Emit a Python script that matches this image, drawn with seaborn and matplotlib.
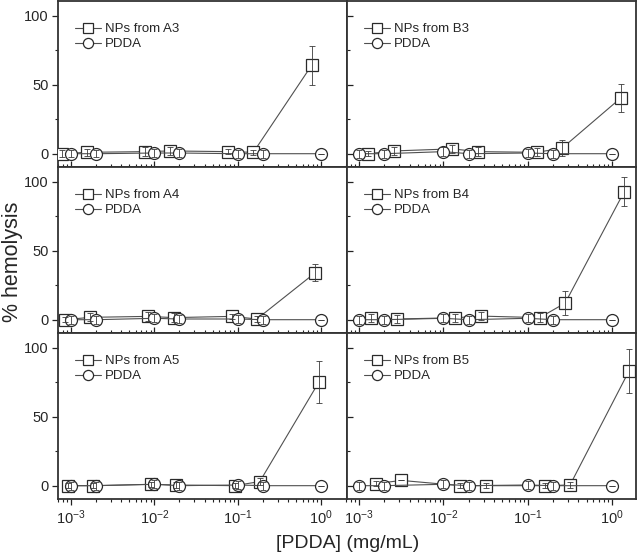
import numpy as np
import pandas as pd
import matplotlib
matplotlib.use('Agg')
import matplotlib.pyplot as plt
import seaborn as sns
from matplotlib.ticker import LogLocator, FixedLocator, NullFormatter

sns.set_style('ticks')
plt.rcParams['font.family'] = ['Liberation Sans', 'DejaVu Sans']
plt.rcParams['mathtext.fontset'] = 'custom'
plt.rcParams['mathtext.rm'] = 'Liberation Sans'
plt.rcParams['mathtext.it'] = 'Liberation Sans:italic'
plt.rcParams['mathtext.bf'] = 'Liberation Sans:bold'

# ---------------- data ----------------
panel_names = ['A3', 'B3', 'A4', 'B4', 'A5', 'B5']
pdda_conc = [0.001, 0.002, 0.01, 0.02, 0.1, 0.2, 1.0]

np_conc_A3 = [0.00077, 0.00154, 0.0077, 0.0154, 0.077, 0.154, 0.77]
np_hemo_A3 = [0.0, 1.0, 1.5, 2.0, 1.5, 1.0, 64.0]
np_err_A3 = [2.5, 2.5, 3.0, 3.0, 2.0, 2.0, 14.0]
pdda_hemo_A3 = [0.0, 0.0, 0.5, 0.5, 0.0, 0.0, 0.0]
pdda_err_A3 = [2.5, 2.5, 3.0, 3.0, 3.0, 3.0, 0.0]

np_conc_B3 = [0.00128, 0.00256, 0.0128, 0.0256, 0.128, 0.256, 1.28]
np_hemo_B3 = [0.0, 2.0, 3.5, 1.5, 1.0, 4.0, 40.5]
np_err_B3 = [2.0, 3.0, 3.0, 3.0, 3.0, 6.0, 10.0]
pdda_hemo_B3 = [0.0, 0.0, 1.5, 0.0, 0.5, 0.0, 0.0]
pdda_err_B3 = [3.0, 3.0, 3.0, 3.0, 3.0, 3.0, 0.0]

np_conc_A4 = [0.00085, 0.0017, 0.0085, 0.017, 0.085, 0.17, 0.85]
np_hemo_A4 = [0.0, 1.7, 2.4, 1.5, 2.4, 0.5, 34.0]
np_err_A4 = [2.0, 3.0, 3.0, 3.0, 2.0, 2.0, 6.0]
pdda_hemo_A4 = [0.0, 0.0, 1.0, 0.5, 0.5, 0.0, 0.0]
pdda_err_A4 = [3.0, 3.0, 3.0, 3.0, 3.0, 3.0, 0.0]

np_conc_B4 = [0.00139, 0.00278, 0.0139, 0.0278, 0.139, 0.278, 1.39]
np_hemo_B4 = [1.0, 0.5, 1.4, 2.6, 1.5, 12.0, 92.5]
np_err_B4 = [3.0, 3.0, 3.0, 3.0, 3.0, 8.5, 10.5]
pdda_hemo_B4 = [0.0, 0.0, 1.0, 0.0, 1.0, 0.0, 0.0]
pdda_err_B4 = [3.0, 3.0, 3.0, 3.0, 3.0, 3.0, 0.0]

np_conc_A5 = [0.00092, 0.00184, 0.0092, 0.0184, 0.092, 0.184, 0.94]
np_hemo_A5 = [0.0, 0.0, 1.0, 0.5, 0.0, 3.0, 75.0]
np_err_A5 = [2.0, 2.0, 2.0, 2.0, 2.0, 2.5, 15.0]
pdda_hemo_A5 = [0.0, 0.0, 1.0, 0.0, 0.5, 0.0, 0.0]
pdda_err_A5 = [3.0, 3.0, 3.0, 3.0, 3.0, 3.0, 0.0]

np_conc_B5 = [0.00159, 0.00318, 0.0159, 0.0318, 0.159, 0.318, 1.59]
np_hemo_B5 = [1.5, 3.8, 0.0, 0.0, 0.0, 0.5, 83.0]
np_err_B5 = [2.0, 0.0, 2.0, 2.0, 2.0, 2.0, 16.0]
pdda_hemo_B5 = [0.0, 0.0, 1.0, 0.0, 0.5, 0.0, 0.0]
pdda_err_B5 = [3.0, 3.0, 3.0, 3.0, 3.0, 3.0, 0.0]

y_major = [0, 50, 100]
y_minor = [25, 75]
x_ticks = [1e-3, 1e-2, 1e-1, 1e0]

panels = {
    'A3': (np_conc_A3, np_hemo_A3, np_err_A3, pdda_hemo_A3, pdda_err_A3),
    'B3': (np_conc_B3, np_hemo_B3, np_err_B3, pdda_hemo_B3, pdda_err_B3),
    'A4': (np_conc_A4, np_hemo_A4, np_err_A4, pdda_hemo_A4, pdda_err_A4),
    'B4': (np_conc_B4, np_hemo_B4, np_err_B4, pdda_hemo_B4, pdda_err_B4),
    'A5': (np_conc_A5, np_hemo_A5, np_err_A5, pdda_hemo_A5, pdda_err_A5),
    'B5': (np_conc_B5, np_hemo_B5, np_err_B5, pdda_hemo_B5, pdda_err_B5),
}

# ---------------- figure ----------------
fig, axes = plt.subplots(3, 2, figsize=(6.38, 5.57), dpi=100)
fig.subplots_adjust(left=0.0909, right=0.997, top=0.998, bottom=0.104,
                    wspace=0, hspace=0)

line_col = '#505050'
edge_col = '#2a2a2a'
err_col = '#3a3a3a'

for i, name in enumerate(panel_names):
    r, c = divmod(i, 2)
    ax = axes[r, c]
    xc, yh, ye, ph, pe = panels[name]
    df_np = pd.DataFrame({'x': xc, 'y': yh})
    df_pd = pd.DataFrame({'x': pdda_conc, 'y': ph})

    sns.lineplot(data=df_np, x='x', y='y', ax=ax, color=line_col, lw=0.8,
                 marker='s', markersize=8.6, markerfacecolor='white',
                 markeredgecolor=edge_col, markeredgewidth=0.9,
                 label=f'NPs from {name}', zorder=3)
    sns.lineplot(data=df_pd, x='x', y='y', ax=ax, color=line_col, lw=0.8,
                 marker='o', markersize=8.6, markerfacecolor='white',
                 markeredgecolor=edge_col, markeredgewidth=0.9,
                 label='PDDA', zorder=3)
    ax.errorbar(xc, yh, yerr=ye, fmt='none', ecolor=err_col, elinewidth=0.6,
                capsize=2, capthick=0.6, zorder=4)
    ax.errorbar(pdda_conc, ph, yerr=pe, fmt='none', ecolor=err_col,
                elinewidth=0.6, capsize=2, capthick=0.6, zorder=4)

    ax.set_xscale('log')
    if c == 0:
        ax.set_xlim(10 ** -3.156, 10 ** 0.311)
    else:
        ax.set_xlim(10 ** -3.143, 10 ** 0.286)
    ax.set_ylim(-9.7, 110.5)
    ax.set_xlabel('')
    ax.set_ylabel('')

    ax.xaxis.set_major_locator(FixedLocator(x_ticks))
    ax.xaxis.set_minor_locator(LogLocator(base=10, subs=np.arange(2, 10)))
    ax.xaxis.set_minor_formatter(NullFormatter())
    ax.yaxis.set_major_locator(FixedLocator(y_major))
    ax.yaxis.set_minor_locator(FixedLocator(y_minor))

    xdir = 'out' if r == 2 else 'in'
    ydir = 'out' if c == 0 else 'in'
    ax.tick_params(axis='x', which='major', direction=xdir, length=4,
                   width=0.9, labelsize=10.5, pad=3, color='#222222')
    ax.tick_params(axis='x', which='minor', direction=xdir, length=2.2,
                   width=0.8, color='#222222')
    ax.tick_params(axis='y', which='major', direction=ydir, length=4,
                   width=0.9, labelsize=10.5, pad=2.5, color='#222222')
    ax.tick_params(axis='y', which='minor', direction=ydir, length=2.2,
                   width=0.8, color='#222222')
    if r != 2:
        ax.tick_params(axis='x', labelbottom=False)
    if c != 0:
        ax.tick_params(axis='y', labelleft=False)

    for sp in ax.spines.values():
        sp.set_visible(True)
        sp.set_linewidth(1.3)
        sp.set_color('#333333')

    ax.legend(loc='upper left', bbox_to_anchor=(0.03, 0.915), frameon=False,
              fontsize=9.5, handlelength=2.0, handletextpad=0.3,
              labelspacing=0.2, borderaxespad=0.2, markerscale=0.85)

fig.text(0.019, 0.53, '% hemolysis', rotation=90, va='center', ha='center',
         fontsize=15.5)
fig.text(0.545, 0.025, '[PDDA] (mg/mL)', va='center', ha='center',
         fontsize=14)

fig.savefig('out.png', dpi=100)
